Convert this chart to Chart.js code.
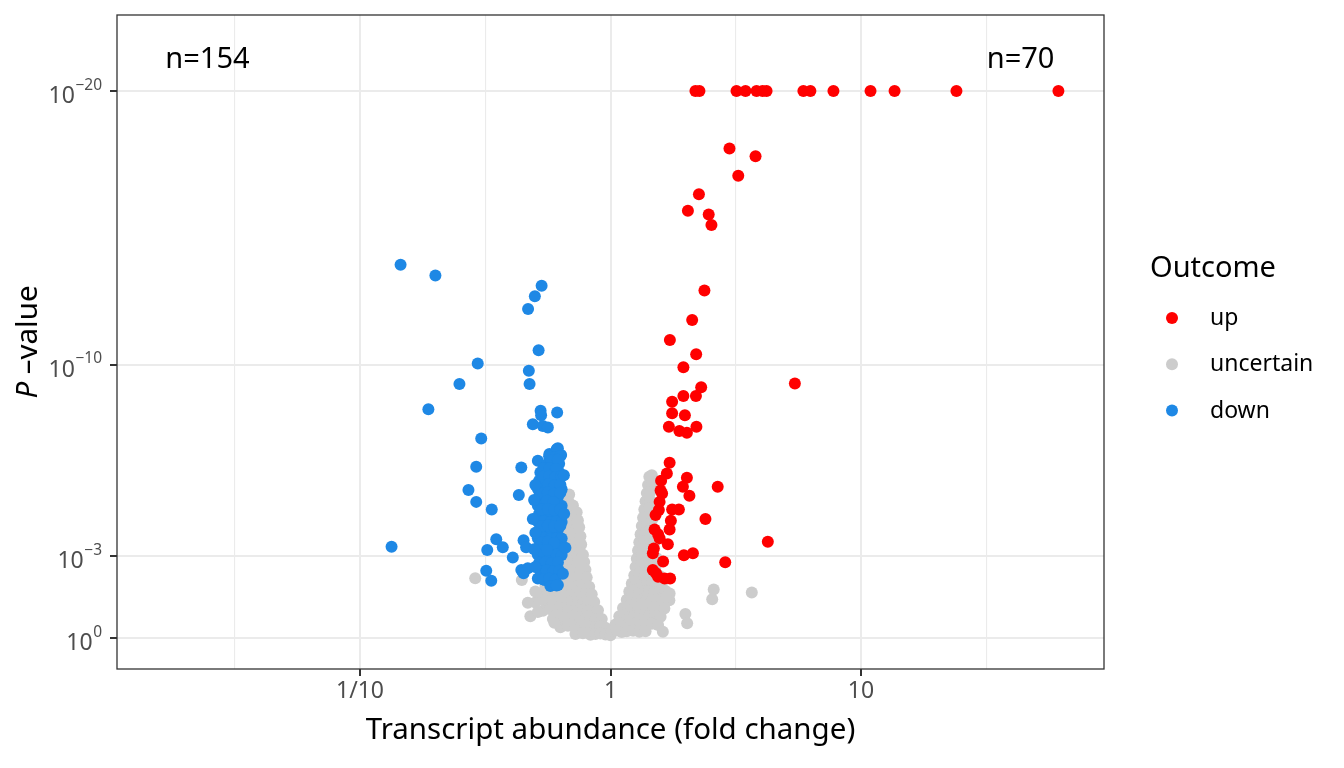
<!DOCTYPE html>
<html><head><meta charset="utf-8">
<script src="https://cdn.jsdelivr.net/npm/chart.js@4.4.1/dist/chart.umd.min.js"></script>
<style>html,body{margin:0;padding:0;background:#fff}#wrap{width:1344px;height:768px;position:relative}</style>
</head><body><div id="wrap"><canvas id="c"></canvas></div>
<script>
// x = log10(fold change), y = -log10(P)
const seriesNames = ['up', 'uncertain', 'down'];
const seriesColors = ['#FF0000', '#CCCCCC', '#1E88E5'];
const xTickValues = [-1, 0, 1];
const xTickLabels = ['1/10', '1', '10'];
const xMinorValues = [-1.5, -0.5, 0.5, 1.5];
const yTickValues = [0, 3, 10, 20];
const yTickExponents = ['0', '\u22123', '\u221210', '\u221220'];
const countLabels = ['n=154', 'n=70'];

const upPoints = [
[0.339,20],[0.355,20],[0.503,20],[0.539,20],[0.583,20],[0.607,20],[0.623,20],[0.770,20],[0.798,20],[0.890,20],[1.038,20],[1.134,20],[1.381,20],[1.788,20],
[0.475,17.9],[0.579,17.62],[0.510,16.9],[0.353,16.23],[0.309,15.62],[0.392,15.49],[0.403,15.1],[0.375,12.71],[0.326,11.63],[0.237,10.9],[0.342,10.38],[0.291,9.9],[0.736,9.31],[0.362,9.17],[0.291,8.85],[0.341,8.85],[0.246,8.64],[0.246,8.22],[0.297,8.15],[0.233,7.73],[0.275,7.57],[0.305,7.51],[0.343,7.73],
[0.236,6.41],[0.225,6.02],[0.202,5.75],[0.305,5.86],[0.289,5.53],[0.315,5.20],[0.428,5.53],[0.206,5.29],[0.196,4.98],[0.246,4.70],[0.273,4.70],[0.193,4.68],[0.379,4.35],[0.241,4.29],[0.236,3.97],[0.176,3.97],[0.628,3.52],[0.196,3.65],[0.229,3.43],[0.173,3.28],[0.169,3.10],[0.293,3.03],[0.329,3.10],[0.458,2.77],[0.182,2.37],[0.216,2.18],[0.238,2.18],[0.169,2.49],[0.190,2.24],
[0.18,4.5],[0.19,3.8],[0.21,2.8],[0.2,5.4]
];

const downPoints = [
[-0.838,13.65],[-0.699,13.26],[-0.275,12.88],[-0.302,12.50],[-0.329,12.03],[-0.287,10.52],[-0.530,10.04],[-0.326,9.77],[-0.323,9.29],[-0.603,9.29],[-0.727,8.37],[-0.279,8.31],[-0.213,8.25],[-0.277,8.15],[-0.310,7.82],[-0.270,7.75],[-0.250,7.70],[-0.516,7.30],
[-0.536,6.26],[-0.356,6.24],[-0.290,6.48],[-0.210,6.94],[-0.244,6.73],[-0.197,6.69],[-0.567,5.41],[-0.366,5.23],[-0.536,4.98],[-0.474,4.70],[-0.874,3.34],[-0.456,3.61],[-0.430,3.32],[-0.492,3.22],[-0.390,2.95],[-0.496,2.46],[-0.476,2.10],[-0.347,3.58],[-0.337,3.32],[-0.356,2.49],[-0.330,2.55],[-0.347,2.37],[-0.290,2.18],[-0.210,1.94],[-0.263,2.12],
[-0.215,6.9],
[-0.245,6.65],[-0.22,6.62],[-0.2,6.66],
[-0.255,6.35],[-0.23,6.33],[-0.205,6.37],
[-0.28,6.05],[-0.255,6.07],[-0.23,6.03],[-0.205,6.06],
[-0.285,5.75],[-0.26,5.77],[-0.235,5.73],[-0.21,5.76],
[-0.29,5.45],[-0.265,5.47],[-0.24,5.43],[-0.215,5.46],[-0.195,5.44],
[-0.285,5.15],[-0.26,5.17],[-0.235,5.13],[-0.21,5.16],
[-0.29,4.85],[-0.265,4.87],[-0.24,4.83],[-0.215,4.86],[-0.195,4.84],
[-0.285,4.55],[-0.26,4.57],[-0.235,4.53],[-0.21,4.56],
[-0.29,4.25],[-0.265,4.27],[-0.24,4.23],[-0.215,4.26],[-0.195,4.24],
[-0.285,3.95],[-0.26,3.97],[-0.235,3.93],[-0.21,3.96],
[-0.29,3.65],[-0.265,3.67],[-0.24,3.63],[-0.215,3.66],[-0.195,3.64],
[-0.285,3.35],[-0.26,3.37],[-0.235,3.33],[-0.21,3.36],
[-0.29,3.05],[-0.265,3.07],[-0.24,3.03],[-0.215,3.06],[-0.195,3.04],
[-0.285,2.75],[-0.26,2.77],[-0.235,2.73],[-0.21,2.76],
[-0.28,2.45],[-0.255,2.47],[-0.23,2.43],[-0.205,2.46],
[-0.27,2.15],[-0.245,2.17],[-0.22,2.13],
[-0.24,1.9],[-0.215,1.92],
[-0.235,6.5],[-0.21,6.52],
[-0.268,6.2],[-0.243,6.22],[-0.218,6.18],
[-0.27,5.9],[-0.245,5.92],[-0.22,5.88],[-0.198,5.91],
[-0.273,5.6],[-0.248,5.62],[-0.223,5.58],[-0.2,5.61],
[-0.275,5.3],[-0.25,5.32],[-0.225,5.28],[-0.2,5.31],
[-0.253,5.02],[-0.228,4.98],
[-0.275,4.7],[-0.25,4.72],[-0.225,4.68],[-0.2,4.71],
[-0.275,4.1],[-0.25,4.12],[-0.225,4.08],[-0.2,4.11],
[-0.275,3.5],[-0.25,3.52],[-0.225,3.48],
[-0.278,3.2],[-0.253,3.22],
[-0.305,5.05],[-0.31,4.35],[-0.3,3.85],[-0.305,3.25],[-0.3,2.6],[-0.186,5.95],[-0.185,4.55],[-0.18,3.3],[-0.19,2.35],[-0.3,5.6]
];

const uncertainPoints = [
[-0.18,5.2],[-0.165,5.25],
[-0.185,4.9],[-0.165,4.95],[-0.15,4.85],
[-0.19,4.6],[-0.17,4.65],[-0.15,4.55],[-0.135,4.6],
[-0.19,4.3],[-0.17,4.35],[-0.15,4.25],[-0.13,4.3],
[-0.195,4.0],[-0.175,4.05],[-0.155,3.95],[-0.135,4.0],[-0.125,4.05],
[-0.2,3.7],[-0.18,3.75],[-0.16,3.65],[-0.14,3.7],[-0.12,3.72],
[-0.2,3.4],[-0.18,3.45],[-0.16,3.35],[-0.14,3.4],[-0.117,3.42],
[-0.2,3.1],[-0.18,3.15],[-0.16,3.05],[-0.14,3.1],[-0.12,3.12],[-0.11,3.05],
[-0.21,2.8],[-0.19,2.85],[-0.17,2.75],[-0.15,2.8],[-0.13,2.82],[-0.105,2.78],
[-0.22,2.5],[-0.2,2.55],[-0.18,2.45],[-0.16,2.5],[-0.14,2.52],[-0.12,2.48],[-0.1,2.5],
[-0.24,2.2],[-0.22,2.25],[-0.2,2.15],[-0.18,2.2],[-0.16,2.22],[-0.14,2.18],[-0.12,2.2],[-0.095,2.22],
[-0.26,1.9],[-0.23,1.95],[-0.21,1.85],[-0.19,1.9],[-0.17,1.92],[-0.15,1.88],[-0.13,1.9],[-0.11,1.92],[-0.085,1.88],
[-0.28,1.6],[-0.25,1.65],[-0.22,1.55],[-0.2,1.6],[-0.18,1.62],[-0.16,1.58],[-0.14,1.6],[-0.12,1.62],[-0.1,1.58],[-0.075,1.6],
[-0.3,1.3],[-0.26,1.35],[-0.23,1.25],[-0.21,1.3],[-0.19,1.32],[-0.17,1.28],[-0.15,1.3],[-0.13,1.32],[-0.11,1.28],[-0.09,1.3],[-0.065,1.32],
[-0.27,1.0],[-0.24,1.05],[-0.21,0.95],[-0.19,1.0],[-0.17,1.02],[-0.15,0.98],[-0.13,1.0],[-0.11,1.02],[-0.09,0.98],[-0.07,1.0],[-0.05,1.02],
[-0.23,0.7],[-0.2,0.75],[-0.18,0.65],[-0.16,0.7],[-0.14,0.72],[-0.12,0.68],[-0.1,0.7],[-0.08,0.72],[-0.06,0.68],[-0.035,0.7],
[-0.2,0.4],[-0.17,0.45],[-0.14,0.38],[-0.12,0.4],[-0.1,0.42],[-0.08,0.38],[-0.06,0.4],[-0.04,0.42],[-0.02,0.38],
[-0.14,0.15],[-0.11,0.18],[-0.08,0.12],[-0.06,0.15],[-0.04,0.17],[-0.02,0.13],[0,0.1],
[-0.54,2.19],[-0.354,2.12],[-0.33,1.29],[-0.32,0.8],[-0.224,0.56],[-0.3,1.7],[-0.29,0.95],
[0.155,5.9],[0.165,5.95],
[0.15,5.6],[0.165,5.65],
[0.145,5.3],[0.16,5.35],
[0.14,5.0],[0.158,5.05],
[0.135,4.7],[0.155,4.75],[0.17,4.65],
[0.13,4.4],[0.15,4.45],[0.168,4.35],
[0.125,4.1],[0.145,4.15],[0.165,4.05],
[0.12,3.8],[0.14,3.85],[0.16,3.75],
[0.115,3.5],[0.135,3.55],[0.155,3.45],[0.175,3.5],
[0.11,3.2],[0.13,3.25],[0.15,3.15],[0.17,3.2],
[0.105,2.9],[0.125,2.95],[0.145,2.85],[0.165,2.9],[0.185,2.92],
[0.1,2.6],[0.12,2.65],[0.14,2.55],[0.16,2.6],[0.18,2.62],
[0.095,2.3],[0.115,2.35],[0.135,2.25],[0.155,2.3],[0.175,2.32],[0.195,2.28],
[0.085,2.0],[0.105,2.05],[0.125,1.95],[0.145,2.0],[0.165,2.02],[0.185,1.98],[0.205,2.0],
[0.075,1.7],[0.095,1.75],[0.115,1.65],[0.135,1.7],[0.155,1.72],[0.175,1.68],[0.195,1.7],[0.22,1.72],
[0.065,1.4],[0.085,1.45],[0.105,1.35],[0.125,1.4],[0.145,1.42],[0.165,1.38],[0.185,1.4],[0.21,1.42],[0.235,1.38],
[0.05,1.1],[0.07,1.15],[0.09,1.05],[0.11,1.1],[0.13,1.12],[0.15,1.08],[0.17,1.1],[0.19,1.12],[0.215,1.08],
[0.035,0.8],[0.055,0.85],[0.075,0.75],[0.095,0.8],[0.115,0.82],[0.135,0.78],[0.155,0.8],[0.18,0.82],[0.2,0.78],
[0.02,0.5],[0.04,0.55],[0.06,0.45],[0.08,0.5],[0.1,0.52],[0.12,0.48],[0.14,0.5],[0.165,0.52],[0.19,0.48],
[0.005,0.25],[0.025,0.28],[0.045,0.22],[0.065,0.25],[0.09,0.27],[0.115,0.23],[0.14,0.25],
[0.412,1.78],[0.406,1.42],[0.564,1.67],[0.299,0.88],[0.306,0.54],[0.209,0.23],[0.236,1.63],[0.222,1.51]
];

const FONT = "'Noto Sans', 'Open Sans', sans-serif";
const toXY = arr => arr.map(p => ({x: p[0], y: p[1]}));
const isMajorX = v => xTickValues.some(t => Math.abs(t - v) < 1e-9);

const textPlugin = {
  id: 'texts',
  afterDraw(chart) {
    const {ctx, chartArea: a, scales} = chart;
    const xs = scales.x, ys = scales.y;
    ctx.save();
    ctx.strokeStyle = '#333333';
    ctx.lineWidth = 1.3;
    ctx.strokeRect(a.left, a.top, a.right - a.left, a.bottom - a.top);
    ctx.fillStyle = '#4D4D4D';
    ctx.textBaseline = 'alphabetic';
    const yRight = 102;
    yTickValues.forEach((v, i) => {
      const py = ys.getPixelForValue(v);
      ctx.font = '15.5px ' + FONT;
      const sw = ctx.measureText(yTickExponents[i]).width;
      ctx.textAlign = 'left';
      ctx.fillText(yTickExponents[i], yRight - sw, py - 1.3);
      ctx.font = '23px ' + FONT;
      ctx.textAlign = 'right';
      ctx.fillText('10', yRight - sw - 0.5, py + 12.3);
    });
    ctx.font = '23px ' + FONT;
    ctx.textAlign = 'center';
    xTickValues.forEach((v, i) => {
      ctx.fillText(xTickLabels[i], xs.getPixelForValue(v), 698);
    });
    ctx.fillStyle = '#000000';
    ctx.font = '29.5px ' + FONT;
    ctx.fillText('Transcript abundance (fold change)', (a.left + a.right) / 2, 739);
    ctx.save();
    ctx.translate(37, (a.top + a.bottom) / 2);
    ctx.rotate(-Math.PI / 2);
    ctx.font = 'italic 29.5px ' + FONT;
    const wP = ctx.measureText('P').width;
    ctx.font = '29.5px ' + FONT;
    const rest = ' \u2013value';
    const wR = ctx.measureText(rest).width;
    const start = -(wP + wR) / 2;
    ctx.textAlign = 'left';
    ctx.font = 'italic 29.5px ' + FONT;
    ctx.fillText('P', start, 0);
    ctx.font = '29.5px ' + FONT;
    ctx.fillText(rest, start + wP, 0);
    ctx.restore();
    ctx.font = '29px ' + FONT;
    ctx.textAlign = 'center';
    ctx.fillText(countLabels[0], xs.getPixelForValue(-1.609), 68);
    ctx.fillText(countLabels[1], xs.getPixelForValue(1.637), 68);
    ctx.textAlign = 'left';
    ctx.font = '29px ' + FONT;
    ctx.fillText('Outcome', 1150, 277);
    const itemY = [318, 364.3, 410.6];
    seriesNames.forEach((n, i) => {
      ctx.fillStyle = seriesColors[i];
      ctx.beginPath();
      ctx.arc(1172, itemY[i], 6, 0, Math.PI * 2);
      ctx.fill();
      ctx.fillStyle = '#000000';
      ctx.font = '23px ' + FONT;
      ctx.fillText(n, 1210, itemY[i] + 7);
    });
    ctx.restore();
  }
};

const common = {pointRadius: 6, pointHoverRadius: 6, borderWidth: 0, pointBorderWidth: 0};

new Chart(document.getElementById('c'), {
  type: 'scatter',
  data: {
    datasets: [
      Object.assign({label: seriesNames[0], data: toXY(upPoints), backgroundColor: seriesColors[0], order: 1}, common),
      Object.assign({label: seriesNames[2], data: toXY(downPoints), backgroundColor: seriesColors[2], order: 2}, common),
      Object.assign({label: seriesNames[1], data: toXY(uncertainPoints), backgroundColor: seriesColors[1], order: 3}, common)
    ]
  },
  options: {
    responsive: true,
    maintainAspectRatio: false,
    animation: false,
    events: [],
    layout: {padding: {left: 0, right: 240, top: 15, bottom: 0}},
    plugins: {legend: {display: false}, tooltip: {enabled: false}},
    scales: {
      x: {
        type: 'linear', min: -1.97, max: 1.97,
        afterBuildTicks: s => { s.ticks = xMinorValues.concat(xTickValues).sort((p, q) => p - q).map(v => ({value: v})); },
        afterFit: s => { s.height = 99; },
        ticks: {display: false},
        border: {display: false},
        grid: {
          color: '#EBEBEB',
          lineWidth: c => (c.tick && isMajorX(c.tick.value)) ? 2 : 1.1,
          tickColor: c => (c.tick && isMajorX(c.tick.value)) ? '#333333' : 'rgba(0,0,0,0)',
          tickLength: 7, tickWidth: 2
        }
      },
      y: {
        type: 'linear', min: -1.13, max: 22.78,
        afterBuildTicks: s => { s.ticks = yTickValues.map(v => ({value: v})); },
        afterFit: s => { s.width = 117; },
        ticks: {display: false},
        border: {display: false},
        grid: {color: '#EBEBEB', lineWidth: 2, tickColor: '#333333', tickLength: 7, tickWidth: 2}
      }
    }
  },
  plugins: [textPlugin]
});
</script></body></html>
